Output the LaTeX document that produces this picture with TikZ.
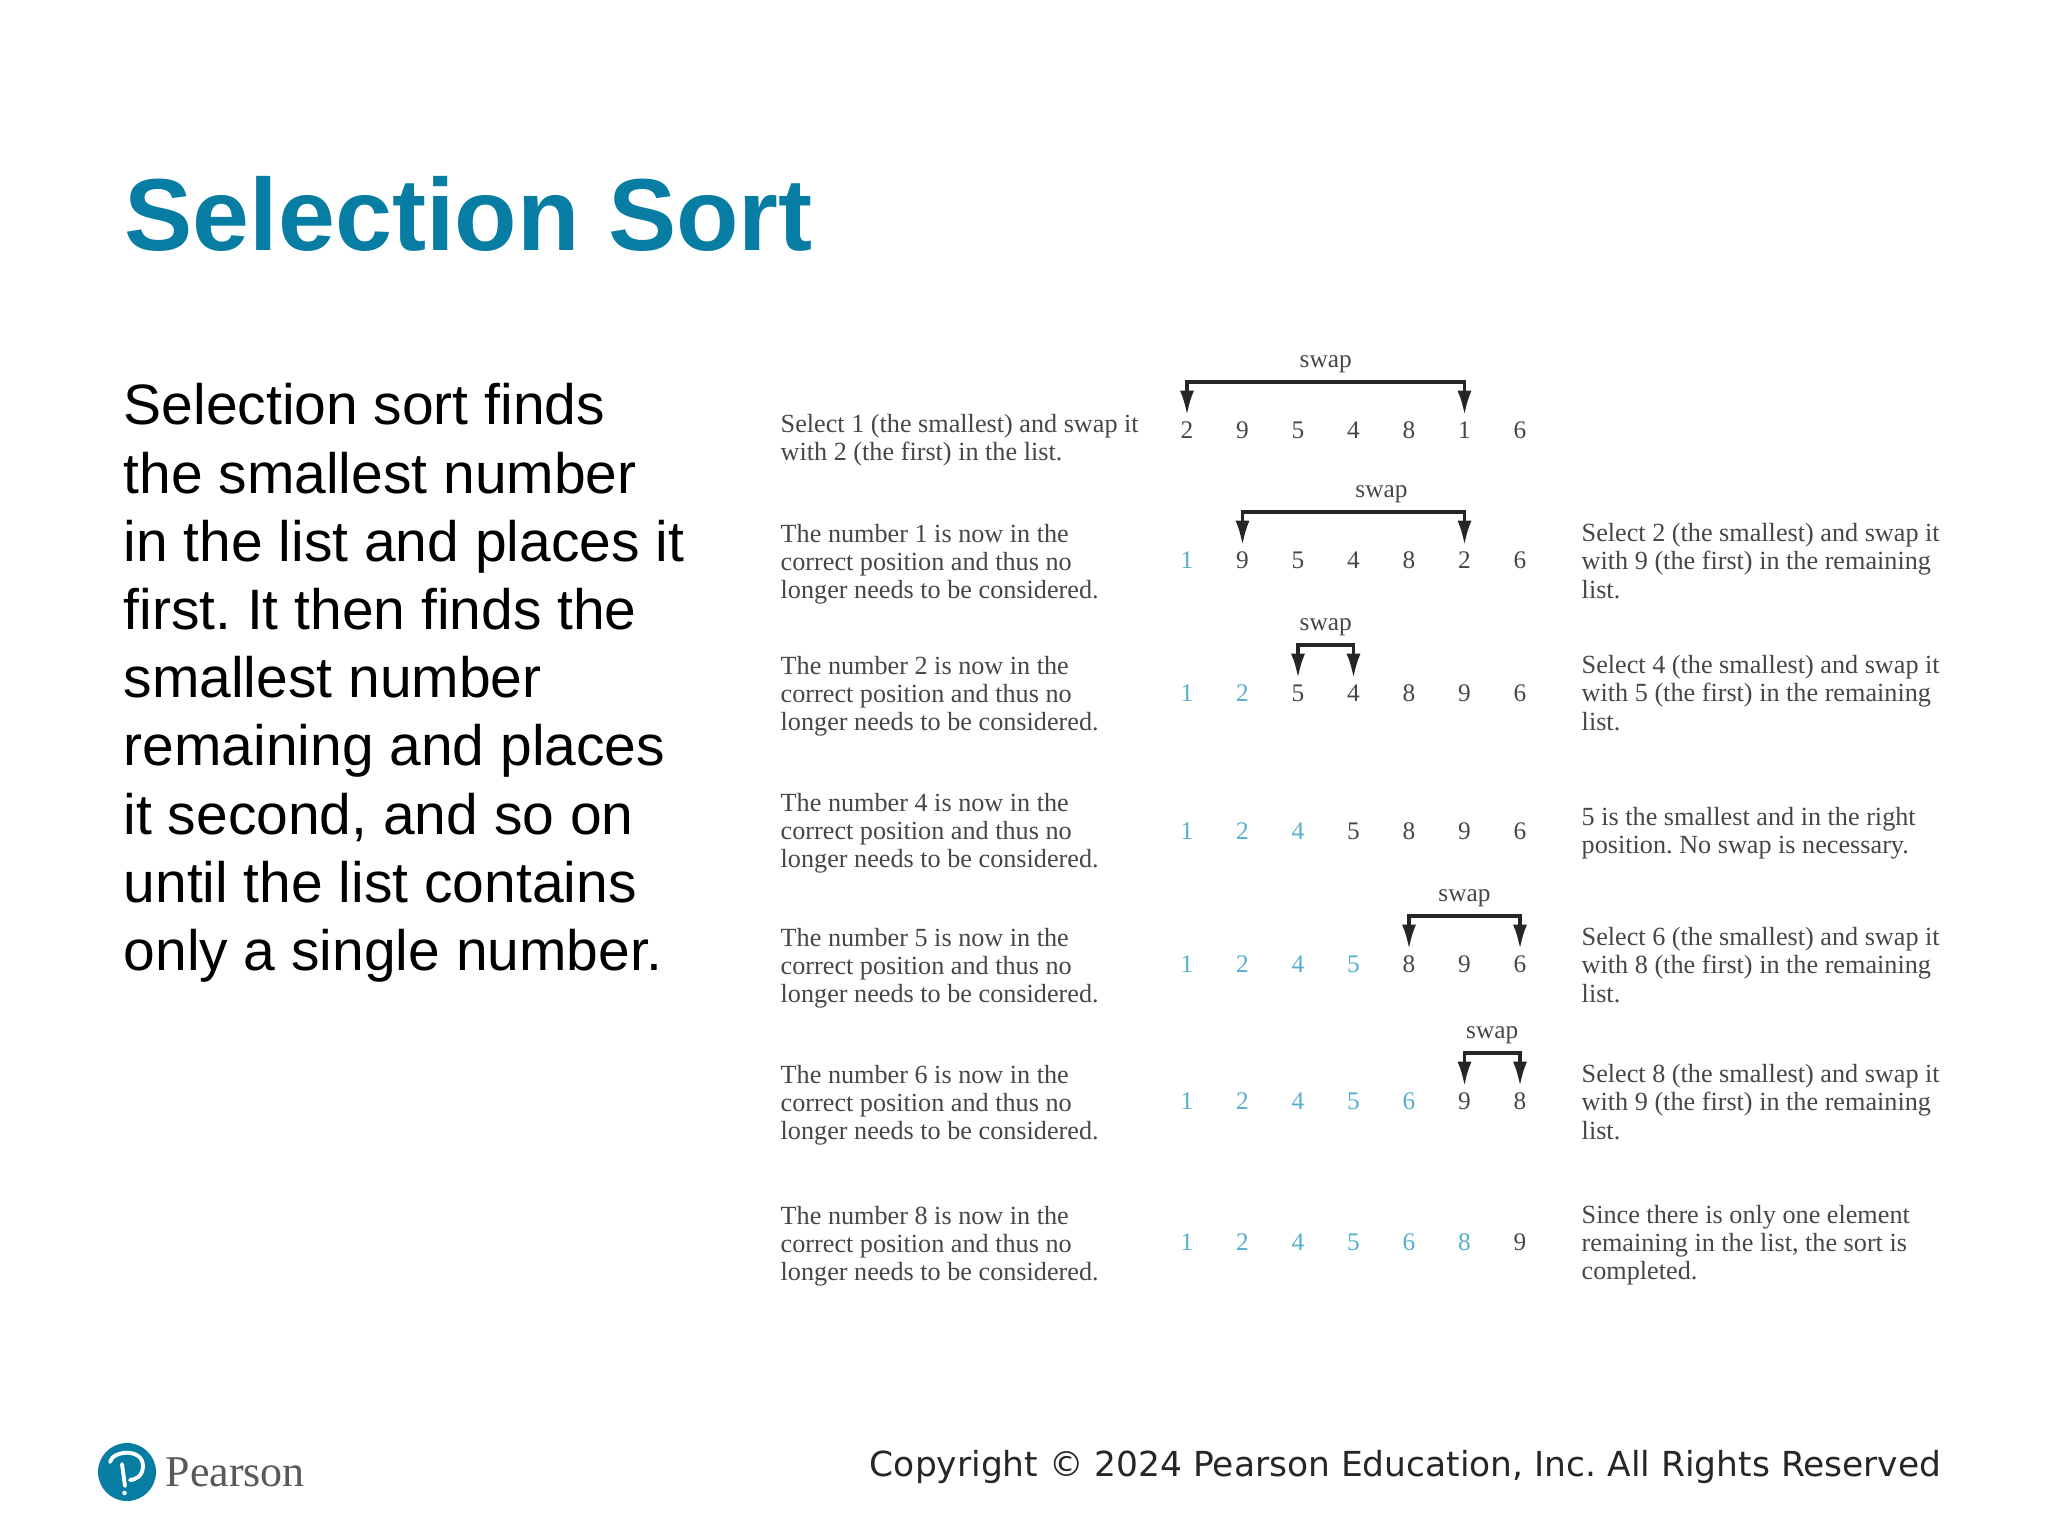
\documentclass[tikz,border=0pt]{standalone}
\usepackage{fontspec}
\usepackage{xcolor}
\setmainfont{Liberation Serif}
\newfontfamily\slidefont{Liberation Sans}
\newfontfamily\copyfont{DejaVu Sans}
\usetikzlibrary{arrows.meta,calc,positioning}
\definecolor{pearsonblue}{RGB}{8,125,163}
\definecolor{donenum}{RGB}{85,175,205}
\definecolor{figtext}{RGB}{70,70,70}
\newcommand{\BarRise}{48}
\frenchspacing
\tikzset{
  titleText/.style={anchor=base west, inner sep=0pt, font=\slidefont\bfseries\fontsize{29.1}{35}\selectfont, text=pearsonblue},
  bodyText/.style={anchor=west, inner sep=0pt, align=left, font=\slidefont\fontsize{16.2}{19.4}\selectfont, text=black},
  noteText/.style={anchor=west, inner sep=0pt, align=left, font=\fontsize{7.45}{8}\selectfont, text=figtext},
  numCell/.style={minimum height=0.28cm, inner sep=0pt, font=\fontsize{7.2}{8}\selectfont, text=figtext},
  doneCell/.style={numCell, text=donenum},
  swapLabel/.style={inner sep=0pt, font=\fontsize{7.2}{8}\selectfont, text=figtext},
  swapArrow/.style={{Latex[length=7pt,width=4pt]}-{Latex[length=7pt,width=4pt]}, line width=1pt, black!85},
  copyText/.style={anchor=base east, inner sep=0pt, font=\copyfont\fontsize{9.8}{12}\selectfont, text=black!85}
}
% one row of the list: name, y, how many are placed, values
\newcommand{\NumRow}[4]{%
  \foreach \v [count=\i] in {#4}{%
    \ifnum\i>#3 \def\cellstyle{numCell}\else\def\cellstyle{doneCell}\fi
    \pgfmathsetmacro{\xpos}{1187+(\i-1)*55.5}
    \node[\cellstyle] (#1-\i) at (\xpos,#2) {\v};
  }%
}
% bracket over two cells of a row, last argument moves the label sideways
\newcommand{\SwapBar}[4]{%
  \coordinate (#1-bar) at ($(#1-#2)+(0,-\BarRise)$);
  \draw[swapArrow] (#1-#2.north) -- (#1-bar) -- (#1-bar -| #1-#3) -- (#1-#3.north);
  \node[swapLabel] (#1-swap) at ($(#1-bar)!0.5!(#1-bar -| #1-#3)+(#4,-18)$) {swap};
}

\begin{document}
\begin{tikzpicture}[x=0.01cm,y=-0.01cm]
  \useasboundingbox (0,0) rectangle (2048,1536);
  \node[titleText] (title) at (124,250) {Selection Sort};
  \node[bodyText] (body) at (123,683) {Selection sort finds\\the smallest number\\in the list and places it\\first. It then finds the\\smallest number\\remaining and places\\it second, and so on\\until the list contains\\only a single number.};

  % the seven states of the list
  \NumRow{ra}{430}{0}{2,9,5,4,8,1,6}
  \NumRow{rb}{560}{1}{1,9,5,4,8,2,6}
  \NumRow{rc}{693}{2}{1,2,5,4,8,9,6}
  \NumRow{rd}{831}{3}{1,2,4,5,8,9,6}
  \NumRow{re}{964}{4}{1,2,4,5,8,9,6}
  \NumRow{rf}{1101}{5}{1,2,4,5,6,9,8}
  \NumRow{rg}{1242}{6}{1,2,4,5,6,8,9}

  \SwapBar{ra}{1}{6}{0}
  \SwapBar{rb}{2}{6}{28}
  \SwapBar{rc}{3}{4}{0}
  \SwapBar{re}{5}{7}{0}
  \SwapBar{rf}{6}{7}{0}

  % left notes
  \node[noteText] (la) at (780,440) {Select 1 (the smallest) and swap it\\with 2 (the first) in the list.};
  \foreach \r/\n/\y in {b/1/564,c/2/696,d/4/833,e/5/968,f/6/1105,g/8/1246}{
    \node[noteText] (l\r) at (780,\y) {The number \n{} is now in the\\correct position and thus no\\longer needs to be considered.};
  }
  % right notes
  \node[noteText] (nb) at (1581,561) {Select 2 (the smallest) and swap it\\with 9 (the first) in the remaining\\list.};
  \node[noteText] (nc) at (1581,693) {Select 4 (the smallest) and swap it\\with 5 (the first) in the remaining\\list.};
  \node[noteText] (nd) at (1581,833) {5 is the smallest and in the right\\position. No swap is necessary.};
  \node[noteText] (ne) at (1581,965) {Select 6 (the smallest) and swap it\\with 8 (the first) in the remaining\\list.};
  \node[noteText] (nf) at (1581,1102) {Select 8 (the smallest) and swap it\\with 9 (the first) in the remaining\\list.};
  \node[noteText] (ng) at (1581,1245) {Since there is only one element\\remaining in the list, the sort is\\completed.};

  % footer
  \fill[pearsonblue] (127,1472) circle (29);
  \draw[white, line width=1.1pt, line cap=round] (110,1462) .. controls (113,1450) and (143,1448) .. (143,1466) .. controls (143,1476) and (135,1480) .. (130,1480);
  \draw[white, line width=1.1pt, line cap=round] (122,1464) -- (125,1486);
  \fill[white] (124.5,1493) circle (2.3);
  \node[anchor=west, inner sep=0pt, font=\fontsize{12.5}{14}\selectfont, text=black!65] (brand) at (165,1472) {Pearson};
  \node[copyText] (copy) at (1942,1476) {Copyright © 2024 Pearson Education, Inc. All Rights Reserved};
\end{tikzpicture}
\end{document}
